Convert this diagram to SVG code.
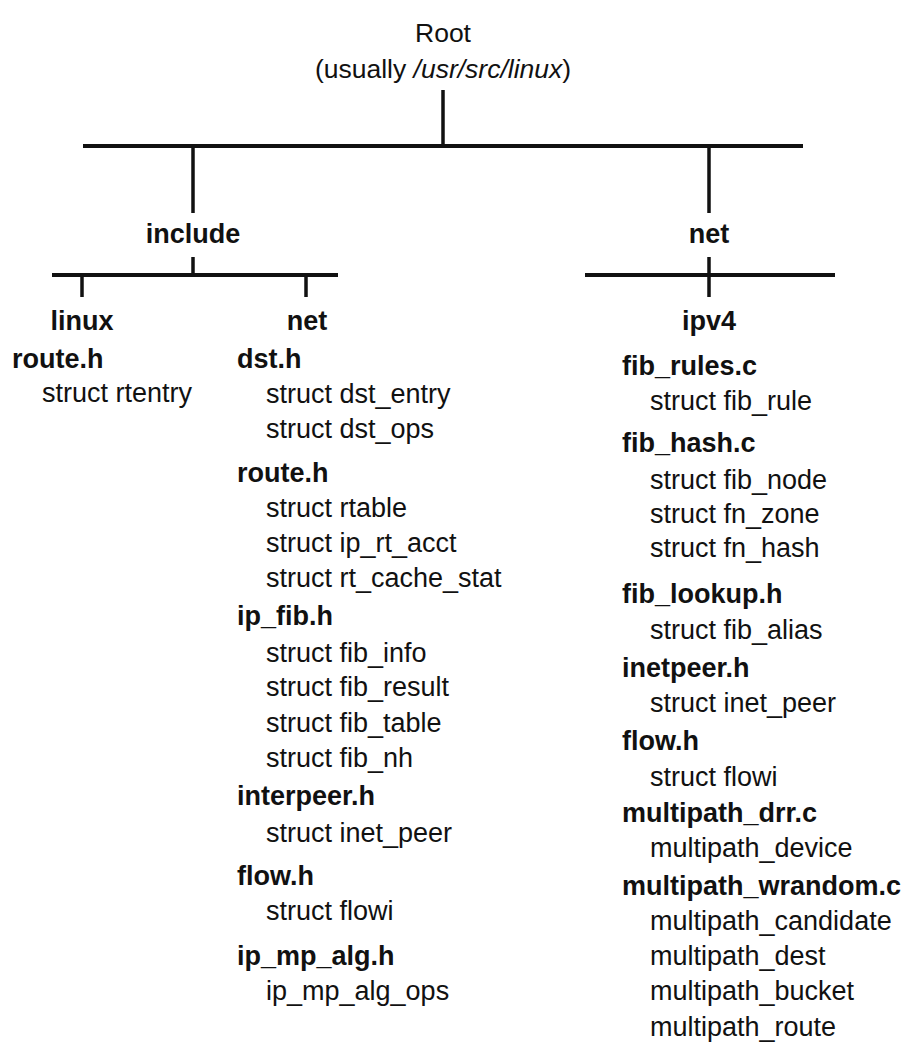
<svg xmlns="http://www.w3.org/2000/svg" width="907" height="1053" viewBox="0 0 907 1053">
<style>
text{font-family:"Liberation Sans",Arial,sans-serif;font-size:27px;fill:#111}
.b{font-weight:bold}
.c{text-anchor:middle}
.h{stroke:#111;stroke-width:4;fill:none}
.v{stroke:#111;stroke-width:3.5;fill:none}
</style>
<rect width="907" height="1053" fill="#fff"/>
<g id="connectors">
<line class="v" x1="443" y1="90" x2="443" y2="146"/>
<line class="h" x1="83" y1="146" x2="803" y2="146"/>
<line class="v" x1="193" y1="146" x2="193" y2="213"/>
<line class="v" x1="709" y1="146" x2="709" y2="213"/>
<line class="v" x1="193" y1="257" x2="193" y2="275"/>
<line class="h" x1="52" y1="275" x2="338" y2="275"/>
<line class="v" x1="82" y1="275" x2="82" y2="297"/>
<line class="v" x1="306" y1="275" x2="306" y2="297"/>
<line class="v" x1="709" y1="257" x2="709" y2="297"/>
<line class="h" x1="585" y1="275" x2="835" y2="275"/>
</g>
<g id="root">
<text class="c" x="443" y="42" style="font-size:26.5px">Root</text>
<text class="c" x="443" y="78" style="font-size:26.5px">(usually <tspan font-style="italic">/usr/src/linux</tspan>)</text>
</g>
<g id="include"><text class="b c" x="193" y="243">include</text></g>
<g id="net-top"><text class="b c" x="709" y="243">net</text></g>
<g id="linux">
<text class="b c" x="82" y="330">linux</text>
<text class="b" x="12" y="368">route.h</text>
<text x="42" y="402">struct rtentry</text>
</g>
<g id="include-net">
<text class="b c" x="307" y="330">net</text>
<text class="b" x="237" y="368">dst.h</text>
<text x="266" y="403">struct dst_entry</text>
<text x="266" y="438">struct dst_ops</text>
<text class="b" x="237" y="482">route.h</text>
<text x="266" y="517">struct rtable</text>
<text x="266" y="552">struct ip_rt_acct</text>
<text x="266" y="587">struct rt_cache_stat</text>
<text class="b" x="237" y="625">ip_fib.h</text>
<text x="266" y="662">struct fib_info</text>
<text x="266" y="696">struct fib_result</text>
<text x="266" y="732">struct fib_table</text>
<text x="266" y="767">struct fib_nh</text>
<text class="b" x="237" y="805">interpeer.h</text>
<text x="266" y="842">struct inet_peer</text>
<text class="b" x="237" y="885">flow.h</text>
<text x="266" y="920">struct flowi</text>
<text class="b" x="237" y="965">ip_mp_alg.h</text>
<text x="266" y="1000">ip_mp_alg_ops</text>
</g>
<g id="ipv4">
<text class="b c" x="709" y="330">ipv4</text>
<text class="b" x="622" y="375">fib_rules.c</text>
<text x="650" y="410">struct fib_rule</text>
<text class="b" x="622" y="452">fib_hash.c</text>
<text x="650" y="489">struct fib_node</text>
<text x="650" y="523">struct fn_zone</text>
<text x="650" y="557">struct fn_hash</text>
<text class="b" x="622" y="603">fib_lookup.h</text>
<text x="650" y="639">struct fib_alias</text>
<text class="b" x="622" y="677">inetpeer.h</text>
<text x="650" y="712">struct inet_peer</text>
<text class="b" x="622" y="750">flow.h</text>
<text x="650" y="786">struct flowi</text>
<text class="b" x="622" y="822">multipath_drr.c</text>
<text x="650" y="857">multipath_device</text>
<text class="b" x="622" y="895">multipath_wrandom.c</text>
<text x="650" y="930">multipath_candidate</text>
<text x="650" y="965">multipath_dest</text>
<text x="650" y="1000">multipath_bucket</text>
<text x="650" y="1036">multipath_route</text>
</g>
</svg>
